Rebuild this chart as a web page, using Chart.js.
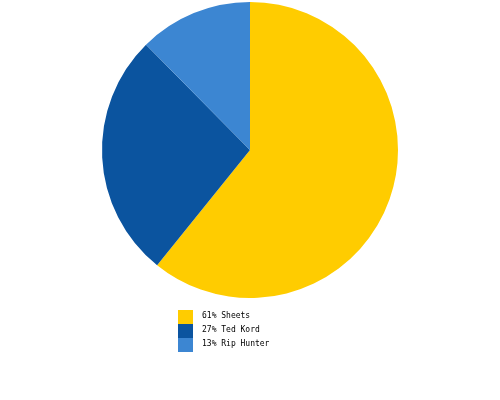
<!DOCTYPE html>
<html>
<head>
<meta charset="utf-8">
<script src="https://cdn.jsdelivr.net/npm/chart.js@4.4.0/dist/chart.umd.min.js"></script>
<style>
  html, body { margin: 0; padding: 0; background: #fff; }
  #wrap { position: relative; width: 500px; height: 400px; }
  #legend { position: absolute; left: 178px; top: 310px; font: 8px "DejaVu Sans Mono", monospace; color: #000; }
  .row { display: flex; align-items: center; height: 14px; }
  .sw { width: 15px; height: 14px; margin-right: 9px; }
  .row span { position: relative; top: -2px; }
</style>
</head>
<body>
<div id="wrap">
  <canvas id="pieChart" width="500" height="400"></canvas>
  <div id="legend"></div>
</div>
<script>
// Slice data
const names = ['Sheets', 'Ted Kord', 'Rip Hunter'];
const shares = [60.8, 26.8, 12.4];
const percentLabels = ['61%', '27%', '13%'];
const colors = ['#FFCC00', '#0B549F', '#3C86D2'];

const ctx = document.getElementById('pieChart').getContext('2d');
const pieChart = new Chart(ctx, {
    type: 'pie',
    data: {
        labels: names,
        datasets: [{
            data: shares,
            backgroundColor: colors,
            borderWidth: 0,
        }],
    },
    options: {
        responsive: false,
        animation: false,
        layout: {
            padding: { top: 2, bottom: 102, left: 0, right: 0 },
        },
        plugins: {
            legend: { display: false },
            tooltip: { enabled: false },
        },
    },
});

// Simple legend below the pie
const legend = document.getElementById('legend');
names.forEach((name, i) => {
    const row = document.createElement('div');
    row.className = 'row';
    const sw = document.createElement('div');
    sw.className = 'sw';
    sw.style.background = colors[i];
    const txt = document.createElement('span');
    txt.textContent = percentLabels[i] + ' ' + name;
    row.appendChild(sw);
    row.appendChild(txt);
    legend.appendChild(row);
});
</script>
</body>
</html>
